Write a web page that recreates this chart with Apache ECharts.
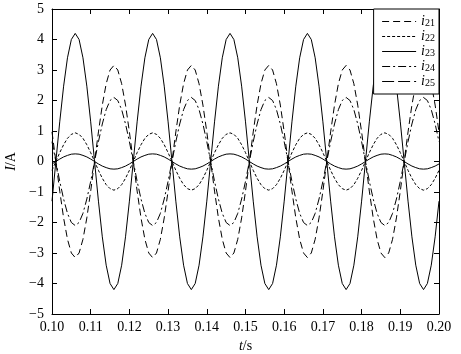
<!DOCTYPE html>
<html>
<head>
<meta charset="utf-8">
<script src="https://cdn.jsdelivr.net/npm/echarts@6/dist/echarts.min.js"></script>
<style>
  html, body { margin: 0; padding: 0; background: #fff; }
  #chart { width: 461px; height: 354px; }
</style>
</head>
<body>
<div id="chart"></div>
<script>
// sample times, 0.100 s .. 0.200 s every 1 ms
const times = Array.from({ length: 101 }, (_, k) => +(0.1 + k * 0.001).toFixed(3))

// currents (A), one value per sample time
const i21 = [
  0.97, 0, -0.97, -1.85, -2.55, -3.00, -3.15, -3.00, -2.55, -1.85, -0.97, 0, 0.97, 1.85, 2.55, 3.00, 3.15, 3.00, 2.55, 1.85,
  0.97, 0, -0.97, -1.85, -2.55, -3.00, -3.15, -3.00, -2.55, -1.85, -0.97, 0, 0.97, 1.85, 2.55, 3.00, 3.15, 3.00, 2.55, 1.85,
  0.97, 0, -0.97, -1.85, -2.55, -3.00, -3.15, -3.00, -2.55, -1.85, -0.97, 0, 0.97, 1.85, 2.55, 3.00, 3.15, 3.00, 2.55, 1.85,
  0.97, 0, -0.97, -1.85, -2.55, -3.00, -3.15, -3.00, -2.55, -1.85, -0.97, 0, 0.97, 1.85, 2.55, 3.00, 3.15, 3.00, 2.55, 1.85,
  0.97, 0, -0.97, -1.85, -2.55, -3.00, -3.15, -3.00, -2.55, -1.85, -0.97, 0, 0.97, 1.85, 2.55, 3.00, 3.15, 3.00, 2.55, 1.85,
  0.97
]
const i22 = [
  -0.29, 0, 0.29, 0.55, 0.76, 0.89, 0.94, 0.89, 0.76, 0.55, 0.29, 0, -0.29, -0.55, -0.76, -0.89, -0.94, -0.89, -0.76, -0.55,
  -0.29, 0, 0.29, 0.55, 0.76, 0.89, 0.94, 0.89, 0.76, 0.55, 0.29, 0, -0.29, -0.55, -0.76, -0.89, -0.94, -0.89, -0.76, -0.55,
  -0.29, 0, 0.29, 0.55, 0.76, 0.89, 0.94, 0.89, 0.76, 0.55, 0.29, 0, -0.29, -0.55, -0.76, -0.89, -0.94, -0.89, -0.76, -0.55,
  -0.29, 0, 0.29, 0.55, 0.76, 0.89, 0.94, 0.89, 0.76, 0.55, 0.29, 0, -0.29, -0.55, -0.76, -0.89, -0.94, -0.89, -0.76, -0.55,
  -0.29, 0, 0.29, 0.55, 0.76, 0.89, 0.94, 0.89, 0.76, 0.55, 0.29, 0, -0.29, -0.55, -0.76, -0.89, -0.94, -0.89, -0.76, -0.55,
  -0.29
]
const i23 = [
  -1.30, 0, 1.30, 2.47, 3.40, 4.00, 4.20, 4.00, 3.40, 2.47, 1.30, 0, -1.30, -2.47, -3.40, -4.00, -4.20, -4.00, -3.40, -2.47,
  -1.30, 0, 1.30, 2.47, 3.40, 4.00, 4.20, 4.00, 3.40, 2.47, 1.30, 0, -1.30, -2.47, -3.40, -4.00, -4.20, -4.00, -3.40, -2.47,
  -1.30, 0, 1.30, 2.47, 3.40, 4.00, 4.20, 4.00, 3.40, 2.47, 1.30, 0, -1.30, -2.47, -3.40, -4.00, -4.20, -4.00, -3.40, -2.47,
  -1.30, 0, 1.30, 2.47, 3.40, 4.00, 4.20, 4.00, 3.40, 2.47, 1.30, 0, -1.30, -2.47, -3.40, -4.00, -4.20, -4.00, -3.40, -2.47,
  -1.30, 0, 1.30, 2.47, 3.40, 4.00, 4.20, 4.00, 3.40, 2.47, 1.30, 0, -1.30, -2.47, -3.40, -4.00, -4.20, -4.00, -3.40, -2.47,
  -1.30
]
const i24 = [
  0.65, 0, -0.65, -1.23, -1.70, -2.00, -2.10, -2.00, -1.70, -1.23, -0.65, 0, 0.65, 1.23, 1.70, 2.00, 2.10, 2.00, 1.70, 1.23,
  0.65, 0, -0.65, -1.23, -1.70, -2.00, -2.10, -2.00, -1.70, -1.23, -0.65, 0, 0.65, 1.23, 1.70, 2.00, 2.10, 2.00, 1.70, 1.23,
  0.65, 0, -0.65, -1.23, -1.70, -2.00, -2.10, -2.00, -1.70, -1.23, -0.65, 0, 0.65, 1.23, 1.70, 2.00, 2.10, 2.00, 1.70, 1.23,
  0.65, 0, -0.65, -1.23, -1.70, -2.00, -2.10, -2.00, -1.70, -1.23, -0.65, 0, 0.65, 1.23, 1.70, 2.00, 2.10, 2.00, 1.70, 1.23,
  0.65, 0, -0.65, -1.23, -1.70, -2.00, -2.10, -2.00, -1.70, -1.23, -0.65, 0, 0.65, 1.23, 1.70, 2.00, 2.10, 2.00, 1.70, 1.23,
  0.65
]
const i25 = [
  -0.08, 0, 0.08, 0.15, 0.20, 0.24, 0.25, 0.24, 0.20, 0.15, 0.08, 0, -0.08, -0.15, -0.20, -0.24, -0.25, -0.24, -0.20, -0.15,
  -0.08, 0, 0.08, 0.15, 0.20, 0.24, 0.25, 0.24, 0.20, 0.15, 0.08, 0, -0.08, -0.15, -0.20, -0.24, -0.25, -0.24, -0.20, -0.15,
  -0.08, 0, 0.08, 0.15, 0.20, 0.24, 0.25, 0.24, 0.20, 0.15, 0.08, 0, -0.08, -0.15, -0.20, -0.24, -0.25, -0.24, -0.20, -0.15,
  -0.08, 0, 0.08, 0.15, 0.20, 0.24, 0.25, 0.24, 0.20, 0.15, 0.08, 0, -0.08, -0.15, -0.20, -0.24, -0.25, -0.24, -0.20, -0.15,
  -0.08, 0, 0.08, 0.15, 0.20, 0.24, 0.25, 0.24, 0.20, 0.15, 0.08, 0, -0.08, -0.15, -0.20, -0.24, -0.25, -0.24, -0.20, -0.15,
  -0.08
]

const seriesNames = ['i21', 'i22', 'i23', 'i24', 'i25']
const seriesValues = [i21, i22, i23, i24, i25]
// dash patterns, as in the legend
const dashes = [[7, 4], [3, 2], 'solid', [8, 3, 2, 3], [12, 4]]

const font = "'Liberation Serif', serif"
const chart = echarts.init(document.getElementById('chart'))

const pairs = vals => times.map((t, k) => [t, vals[k]])

const baseX = {
  type: 'value',
  min: 0.1,
  max: 0.2,
  interval: 0.01,
  axisLine: { show: true, onZero: false, lineStyle: { color: '#000', width: 1 } },
  axisTick: { show: true, inside: true, length: 5, lineStyle: { color: '#000' } },
  splitLine: { show: false }
}
const baseY = {
  type: 'value',
  min: -5,
  max: 5,
  interval: 1,
  axisLine: { show: true, onZero: false, lineStyle: { color: '#000', width: 1 } },
  axisTick: { show: true, inside: true, length: 5, lineStyle: { color: '#000' } },
  splitLine: { show: false }
}

const option = {
  animation: false,
  backgroundColor: '#fff',
  grid: { left: 52, right: 22, top: 9, bottom: 40, containLabel: false, outerBoundsMode: 'none' },
  legend: {
    orient: 'vertical',
    right: 22,
    top: 9,
    padding: [5, 4, 5, 8],
    itemGap: 0,
    itemWidth: 34,
    itemHeight: 10,
    borderColor: '#000',
    borderWidth: 1,
    borderRadius: 0,
    backgroundColor: '#fff',
    data: seriesNames.map((name, k) => ({
      name,
      itemStyle: { opacity: 0 },
      lineStyle: { type: dashes[k], width: 1, color: '#000' }
    })),
    formatter: name => '{i|i}{s|' + name.slice(1) + '}',
    textStyle: {
      color: '#000',
      fontFamily: font,
      lineHeight: 15,
      rich: {
        i: { fontStyle: 'italic', fontSize: 14, fontFamily: font, color: '#000', lineHeight: 15 },
        s: { fontSize: 10, fontFamily: font, color: '#000', lineHeight: 15, padding: [4, 0, 0, 0] }
      }
    }
  },
  xAxis: [
    Object.assign({}, baseX, {
      position: 'bottom',
      name: '{it|t}/s',
      nameLocation: 'middle',
      nameGap: 22,
      nameTextStyle: {
        fontFamily: font, fontSize: 14, color: '#000',
        rich: { it: { fontStyle: 'italic', fontFamily: font, fontSize: 14, color: '#000' } }
      },
      axisLabel: {
        margin: 6,
        fontFamily: font,
        fontSize: 14,
        color: '#000',
        formatter: v => v.toFixed(2)
      }
    }),
    Object.assign({}, baseX, { position: 'top', axisLabel: { show: false } })
  ],
  yAxis: [
    Object.assign({}, baseY, {
      position: 'left',
      name: '{it|I}/A',
      nameLocation: 'middle',
      nameRotate: 90,
      nameGap: 30,
      nameTextStyle: {
        fontFamily: font, fontSize: 14, color: '#000',
        rich: { it: { fontStyle: 'italic', fontFamily: font, fontSize: 14, color: '#000' } }
      },
      axisLabel: {
        margin: 8,
        fontFamily: font,
        fontSize: 14,
        color: '#000',
        formatter: v => String(v).replace('-', '\u2212')
      }
    }),
    Object.assign({}, baseY, { position: 'right', axisLabel: { show: false } })
  ],
  series: seriesNames.map((name, k) => ({
    name,
    type: 'line',
    xAxisIndex: 0,
    yAxisIndex: 0,
    symbol: 'none',
    smooth: false,
    lineStyle: {
      color: '#000',
      width: 1,
      // the smallest curve is drawn solid in the plot
      type: k === 4 ? 'solid' : dashes[k]
    },
    itemStyle: { color: '#000' },
    data: pairs(seriesValues[k])
  }))
}

chart.setOption(option)
window.addEventListener('resize', function () {
  chart.resize()
})
</script>
</body>
</html>
